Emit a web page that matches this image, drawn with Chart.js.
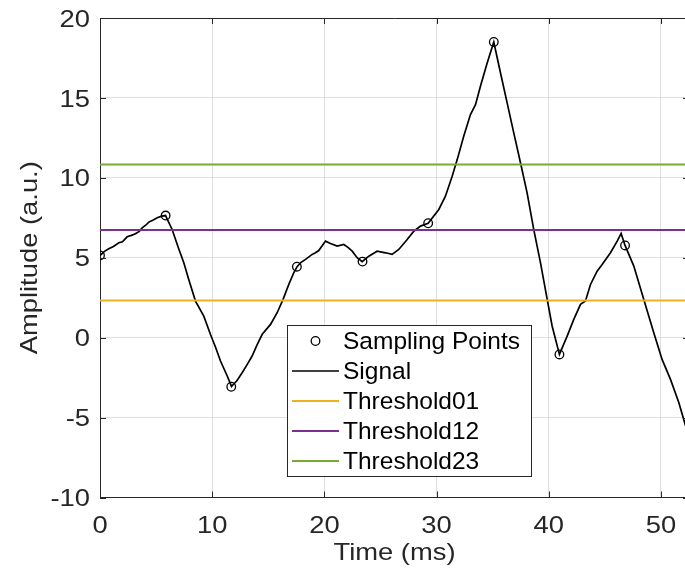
<!DOCTYPE html>
<html>
<head>
<meta charset="utf-8">
<script src="https://cdn.jsdelivr.net/npm/chart.js@4.4.1/dist/chart.umd.min.js"></script>
<style>
  html, body { margin: 0; padding: 0; background: #fff; overflow: hidden; }
  canvas { display: block; }
</style>
</head>
<body>
<canvas id="chart" width="690" height="573"></canvas>
<script>
// Recorded signal (ms, a.u.)
const signalTime = [0, 0.4, 0.78, 1.2, 1.68, 2.0, 2.42, 2.8, 3.16, 3.5, 3.76, 4.1, 4.35, 4.7, 5.1, 5.5, 5.84,
  6.43, 7.0, 7.47, 7.91, 8.51, 9.25, 9.85, 10.3, 10.74, 11.34, 11.72, 12.2, 12.67, 13.1, 13.56, 14.0, 14.46,
  15.2, 15.79, 16.29, 16.83, 17.27, 17.57, 17.9, 18.32, 18.91, 19.2, 19.5, 20.1, 20.54, 21.14, 21.73, 22.1,
  22.48, 22.92, 23.37, 23.96, 24.7, 25.45, 26.04, 26.63, 27.38, 27.97, 28.57, 29.25, 30.2, 30.79, 31.39,
  31.84, 32.42, 33.02, 33.47, 33.91, 34.51, 35.1, 35.7, 36.29, 36.88, 37.48, 38.07, 38.66, 39.26, 39.86,
  40.3, 40.95, 41.64, 42.23, 42.83, 43.27, 43.72, 44.31, 44.76, 45.5, 46.1, 46.45, 46.8, 47.58, 48.47,
  49.36, 50.1, 50.85, 51.59, 52.2];
const signalAmp = [5.14, 5.4, 5.56, 5.7, 5.94, 6.0, 6.31, 6.4, 6.5, 6.65, 6.87, 7.05, 7.23, 7.35, 7.5, 7.6, 7.64,
  6.77, 5.6, 4.69, 3.64, 2.29, 1.35, 0.2, -0.6, -1.46, -2.4, -3.05, -2.7, -2.19, -1.7, -1.15, -0.45, 0.21,
  0.83, 1.56, 2.35, 3.33, 4.06, 4.44, 4.7, 4.9, 5.21, 5.31, 5.45, 6.04, 5.89, 5.73, 5.83, 5.65,
  5.41, 5.0, 4.75, 5.1, 5.41, 5.31, 5.21, 5.52, 6.14, 6.66, 6.98, 7.16, 8.02, 8.85, 10.1,
  11.14, 12.6, 13.96, 14.58, 15.73, 17.19, 18.5, 16.56, 14.69, 12.81, 10.94, 9.06, 6.77, 4.69, 2.39,
  0.73, -1.05, 0.1, 1.14, 2.08, 2.29, 3.33, 4.16, 4.58, 5.31, 6.04, 6.52, 5.77, 4.48, 2.39,
  0.31, -1.36, -2.61, -4.06, -5.52];

// Sampled points
const sampleTime = [0, 5.85, 11.7, 17.55, 23.4, 29.25, 35.1, 40.95, 46.8];
const sampleAmp = [5.14, 7.64, -3.07, 4.44, 4.76, 7.16, 18.5, -1.05, 5.77];

// Decision thresholds
const thresholdNames = ['Threshold01', 'Threshold12', 'Threshold23'];
const thresholdLevels = [2.33, 6.73, 10.83];
const thresholdColors = ['#EDB120', '#7E2F8E', '#77AC30'];

// Axes
const xTicks = [0, 10, 20, 30, 40, 50];
const yTicks = [-10, -5, 0, 5, 10, 15, 20];
const xRange = [0, 52.5];
const yRange = [-10, 20];
const xTitle = 'Time (ms)';
const yTitle = 'Amplitude (a.u.)';

const FONT = "'Liberation Sans', Arial, sans-serif";
const INK = '#262626';
const AXIS_FONT = '24px ' + FONT;
const AXIS_STRETCH = 1.14;   // axis lettering is set slightly wide

const toXY = (xs, ys) => xs.map((x, i) => ({ x: x, y: ys[i] }));

const datasets = [
  {
    label: 'Sampling Points',
    data: toXY(sampleTime, sampleAmp),
    showLine: false,
    pointStyle: 'circle',
    pointRadius: 4.3,
    pointBorderWidth: 1.3,
    pointBorderColor: '#000',
    pointBackgroundColor: 'rgba(0,0,0,0)',
    borderColor: '#000',
    order: 5
  },
  {
    label: 'Signal',
    data: toXY(signalTime, signalAmp),
    showLine: true,
    borderColor: '#000',
    borderWidth: 1.7,
    pointRadius: 0,
    tension: 0,
    order: 4
  }
];
thresholdNames.forEach((name, i) => {
  datasets.push({
    label: name,
    data: [{ x: xRange[0], y: thresholdLevels[i] }, { x: xRange[1], y: thresholdLevels[i] }],
    showLine: true,
    borderColor: thresholdColors[i],
    borderWidth: 2,
    pointRadius: 0,
    order: 3 - i
  });
});

// Box outline with inward tick marks on all four sides
const axesBox = {
  id: 'axesBox',
  afterDatasetsDraw(chart) {
    const { ctx, chartArea: a, scales } = chart;
    const len = 6;
    ctx.save();
    ctx.strokeStyle = INK;
    ctx.lineWidth = 1;
    ctx.beginPath();
    ctx.moveTo(a.left, a.top + 0.5);
    ctx.lineTo(a.right, a.top + 0.5);
    ctx.moveTo(a.right - 0.5, a.top);
    ctx.lineTo(a.right - 0.5, a.bottom);
    xTicks.forEach(v => {
      const px = Math.round(scales.x.getPixelForValue(v)) + 0.5;
      ctx.moveTo(px, a.bottom); ctx.lineTo(px, a.bottom - len);
      ctx.moveTo(px, a.top); ctx.lineTo(px, a.top + len);
    });
    yTicks.forEach(v => {
      const py = Math.round(scales.y.getPixelForValue(v)) + 0.5;
      ctx.moveTo(a.left, py); ctx.lineTo(a.left + len, py);
      ctx.moveTo(a.right, py); ctx.lineTo(a.right - len, py);
    });
    ctx.stroke();
    ctx.restore();
  }
};

// Tick labels and axis titles in the wide axis lettering
const axisText = {
  id: 'axisText',
  afterDraw(chart) {
    const { ctx, chartArea: a, scales } = chart;
    const drawWide = (text, x, y, align, rotate) => {
      ctx.save();
      ctx.translate(x, y);
      if (rotate) ctx.rotate(-Math.PI / 2);
      ctx.scale(AXIS_STRETCH, 1);
      ctx.textAlign = align;
      ctx.fillText(text, 0, 0);
      ctx.restore();
    };
    ctx.save();
    ctx.font = AXIS_FONT;
    ctx.fillStyle = INK;
    ctx.textBaseline = 'alphabetic';
    xTicks.forEach(v => drawWide(String(v), scales.x.getPixelForValue(v), a.bottom + 35.5, 'center', false));
    yTicks.forEach(v => drawWide(String(v), a.left - 10, scales.y.getPixelForValue(v) + 8.6, 'right', false));
    drawWide(xTitle, (a.left + a.right) / 2, a.bottom + 62.5, 'center', false);
    drawWide(yTitle, 37, (a.top + a.bottom) / 2, 'center', true);
    ctx.restore();
  }
};

// Legend box inside the plot area
const insetLegend = {
  id: 'insetLegend',
  afterDraw(chart) {
    const ctx = chart.ctx;
    const box = { x: 287.5, y: 325.5, w: 244, h: 151 };
    const rowTop = 341, rowGap = 30;
    const lineX0 = 292, lineX1 = 339, textX = 343;
    ctx.save();
    ctx.fillStyle = '#fff';
    ctx.fillRect(box.x, box.y, box.w, box.h);
    ctx.strokeStyle = INK;
    ctx.lineWidth = 1;
    ctx.strokeRect(box.x, box.y, box.w, box.h);
    ctx.font = '24.5px ' + FONT;
    ctx.textBaseline = 'middle';
    ctx.textAlign = 'left';
    chart.data.datasets.forEach((ds, i) => {
      const cy = rowTop + i * rowGap;
      if (ds.showLine === false) {
        ctx.beginPath();
        ctx.strokeStyle = ds.pointBorderColor;
        ctx.lineWidth = ds.pointBorderWidth;
        ctx.arc((lineX0 + lineX1) / 2, cy, ds.pointRadius, 0, Math.PI * 2);
        ctx.stroke();
      } else {
        ctx.beginPath();
        ctx.strokeStyle = ds.borderColor;
        ctx.lineWidth = ds.borderWidth;
        ctx.moveTo(lineX0, cy);
        ctx.lineTo(lineX1, cy);
        ctx.stroke();
      }
      ctx.fillStyle = '#000';
      ctx.fillText(ds.label, textX, cy + 1);
    });
    ctx.restore();
  }
};

new Chart(document.getElementById('chart'), {
  type: 'scatter',
  data: { datasets: datasets },
  plugins: [axesBox, axisText, insetLegend],
  options: {
    responsive: false,
    animation: false,
    devicePixelRatio: 1,
    layout: { autoPadding: false, padding: { top: 18, right: 1, left: 0, bottom: 0 } },
    plugins: { legend: { display: false }, tooltip: { enabled: false } },
    scales: {
      x: {
        type: 'linear',
        min: xRange[0],
        max: xRange[1],
        afterBuildTicks: s => { s.ticks = xTicks.map(v => ({ value: v })); },
        afterFit: s => { s.height = 75.5; s.paddingLeft = 0; s.paddingRight = 0; },
        grid: { color: '#dfdfdf', lineWidth: 1, drawTicks: false },
        border: { display: true, color: INK, width: 1 },
        ticks: { display: false },
        title: { display: false }
      },
      y: {
        type: 'linear',
        min: yRange[0],
        max: yRange[1],
        afterBuildTicks: s => { s.ticks = yTicks.map(v => ({ value: v })); },
        afterFit: s => { s.width = 100; s.paddingTop = 0; s.paddingBottom = 0; },
        grid: { color: '#dfdfdf', lineWidth: 1, drawTicks: false },
        border: { display: true, color: INK, width: 1 },
        ticks: { display: false },
        title: { display: false }
      }
    }
  }
});
</script>
</body>
</html>
